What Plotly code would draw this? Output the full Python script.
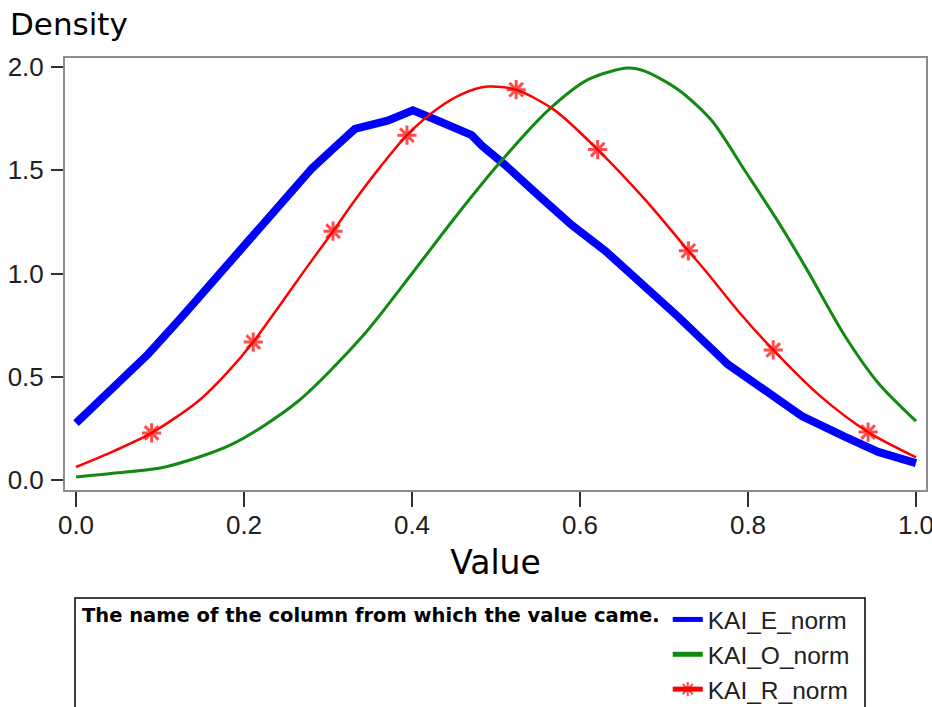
import plotly.graph_objects as go

# Density estimates for the three normalized KAI columns
e_x = [0.000, 0.046, 0.086, 0.126, 0.172, 0.225, 0.264, 0.281, 0.305, 0.332, 0.371,
       0.401, 0.431, 0.471, 0.483, 0.511, 0.550, 0.590, 0.630, 0.660, 0.717, 0.776,
       0.816, 0.864, 0.915, 0.955, 1.000]
e_y = [0.275, 0.45, 0.61, 0.79, 1.00, 1.25, 1.43, 1.51, 1.60, 1.70, 1.74,
       1.79, 1.74, 1.67, 1.62, 1.525, 1.38, 1.235, 1.11, 1.00, 0.79, 0.56,
       0.45, 0.31, 0.21, 0.136, 0.082]

o_x = [0.000, 0.050, 0.106, 0.186, 0.264, 0.344, 0.400, 0.451, 0.502, 0.562, 0.610,
       0.657, 0.677, 0.717, 0.757, 0.796, 0.836, 0.870, 0.915, 0.955, 1.000]
o_y = [0.015, 0.035, 0.063, 0.174, 0.38, 0.71, 1.00, 1.27, 1.525, 1.79, 1.94,
       1.995, 1.98, 1.89, 1.74, 1.50, 1.25, 1.02, 0.70, 0.47, 0.285]

r_x = [0.000, 0.045, 0.090, 0.145, 0.180, 0.211, 0.245, 0.273, 0.306, 0.332, 0.363,
       0.394, 0.431, 0.460, 0.490, 0.524, 0.570, 0.621, 0.677, 0.729, 0.752, 0.790,
       0.830, 0.885, 0.943, 1.000]
r_y = [0.063, 0.14, 0.228, 0.38, 0.52, 0.668, 0.86, 1.02, 1.205, 1.355, 1.52,
       1.67, 1.80, 1.87, 1.905, 1.89, 1.79, 1.60, 1.36, 1.11, 1.00, 0.81,
       0.63, 0.41, 0.232, 0.11]
# points of the R curve that carry a plot symbol
r_marked = [0.090, 0.211, 0.306, 0.394, 0.524, 0.621, 0.729, 0.830, 0.943]

x_ticks = [0.0, 0.2, 0.4, 0.6, 0.8, 1.0]
y_ticks = [0.0, 0.5, 1.0, 1.5, 2.0]

W, H = 932, 707
M_L, M_R, M_T, M_B = 65, 6, 58, 217
PW, PH = W - M_L - M_R, H - M_T - M_B


def px_x(p):
    return (p - M_L) / PW


def px_y(p):
    return (H - M_B - p) / PH


fig = go.Figure()
fig.add_trace(go.Scatter(
    x=e_x, y=e_y, mode="lines", name="KAI_E_norm",
    line=dict(color="#0000ff", width=8)))
fig.add_trace(go.Scatter(
    x=o_x, y=o_y, mode="lines", name="KAI_O_norm",
    line=dict(color="#108a10", width=3, shape="spline", smoothing=0.8)))
fig.add_trace(go.Scatter(
    x=r_x, y=r_y, mode="lines+markers", name="KAI_R_norm",
    line=dict(color="#ff0000", width=2.5, shape="spline", smoothing=0.8),
    marker=dict(symbol="asterisk-open",
                size=[16 if v in r_marked else 0 for v in r_x],
                color="#ff0000", line=dict(color="#ff0000", width=3))))

tick_font = dict(family="Liberation Sans, Arial, sans-serif", size=26, color="#202020")

fig.update_layout(
    width=W, height=H,
    margin=dict(l=M_L, r=M_R, t=M_T, b=M_B, pad=0, autoexpand=False),
    paper_bgcolor="white", plot_bgcolor="white",
    showlegend=True,
    legend=dict(
        x=px_x(80), y=px_y(597), xanchor="left", yanchor="top",
        orientation="v", itemsizing="constant", traceorder="normal",
        bgcolor="rgba(0,0,0,0)", borderwidth=0,
        font=dict(family="Liberation Sans, Arial, sans-serif", size=24.5, color="#202020"),
        title=dict(text="The name of the column from which the value came.",
                   side="left",
                   font=dict(family="DejaVu Sans, sans-serif", size=19.5,
                             weight="bold", color="black")),
    ),
    xaxis=dict(
        range=[(M_L - 76) / 840, (W - M_R - 76) / 840],
        tickvals=x_ticks, ticktext=[f"{v:.1f}" for v in x_ticks],
        ticks="outside", ticklen=15, tickwidth=1.5, tickcolor="#303030",
        ticklabelstandoff=-4, ticklabeloverflow="allow", automargin=False,
        showline=True, mirror=True, linecolor="#8c8c8c", linewidth=2,
        showgrid=False, zeroline=False, tickfont=tick_font,
        title=dict(text="Value", font=dict(family="DejaVu Sans, sans-serif", size=33,
                                             color="black"), standoff=12),
    ),
    yaxis=dict(
        range=[(480 - (H - M_B)) / 206.5, (480 - M_T) / 206.5],
        tickvals=y_ticks, ticktext=[f"{v:.1f}" for v in y_ticks],
        ticks="outside", ticklen=12, tickwidth=1.5, tickcolor="#303030",
        ticklabelstandoff=2, automargin=False,
        showline=True, mirror=True, linecolor="#8c8c8c", linewidth=2,
        showgrid=False, zeroline=False, tickfont=tick_font,
    ),
    shapes=[dict(type="rect", xref="paper", yref="paper",
                 x0=px_x(75), x1=px_x(865), y0=px_y(730), y1=px_y(598),
                 line=dict(color="black", width=1.5), fillcolor="rgba(0,0,0,0)",
                 layer="above")],
    annotations=[dict(text="Density", xref="paper", yref="paper",
                      x=px_x(8), y=px_y(24), xanchor="left", yanchor="middle",
                      showarrow=False,
                      font=dict(family="DejaVu Sans, sans-serif", size=31, color="black"))],
)

fig.write_html("out.html")
